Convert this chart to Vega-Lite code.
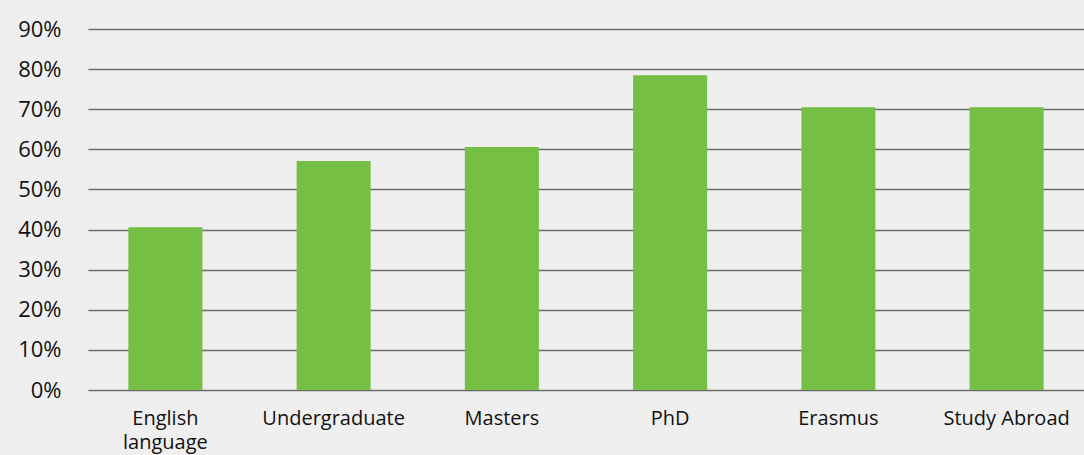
{
  "$schema": "https://vega.github.io/schema/vega-lite/v6.json",
  "width": 996,
  "height": 361,
  "autosize": "none",
  "padding": {"left": 88, "top": 29, "right": 0, "bottom": 65},
  "background": "#efefef",
  "config": {"view": {"stroke": null}, "font": "Open Sans"},
  "data": {"values": [
    {"category": "English language", "value": 40.6},
    {"category": "Undergraduate", "value": 57.1},
    {"category": "Masters", "value": 60.6},
    {"category": "PhD", "value": 78.5},
    {"category": "Erasmus", "value": 70.5},
    {"category": "Study Abroad", "value": 70.5}
  ]},
  "mark": {"type": "bar", "color": "#76bf45"},
  "encoding": {
    "x": {
      "field": "category", "type": "nominal", "sort": null, "title": null,
      "scale": {"paddingInner": 0.56, "paddingOuter": 0.24},
      "axis": {
        "domain": false, "ticks": false, "labelAngle": 0,
        "labelFont": "Open Sans", "labelFontSize": 20, "labelColor": "#111111",
        "labelPadding": 18, "labelLineHeight": 24,
        "labelExpr": "datum.label == 'English language' ? ['English', 'language'] : datum.label"
      }
    },
    "y": {
      "field": "value", "type": "quantitative", "title": null,
      "scale": {"domain": [0, 90]},
      "axis": {
        "values": [0, 10, 20, 30, 40, 50, 60, 70, 80, 90],
        "labelExpr": "datum.value + '%'",
        "domain": false, "ticks": false,
        "grid": true, "gridColor": "#6b6b6b", "gridWidth": 1.6,
        "labelFont": "Open Sans", "labelFontSize": 22, "labelColor": "#111111",
        "labelPadding": 27
      }
    }
  }
}
